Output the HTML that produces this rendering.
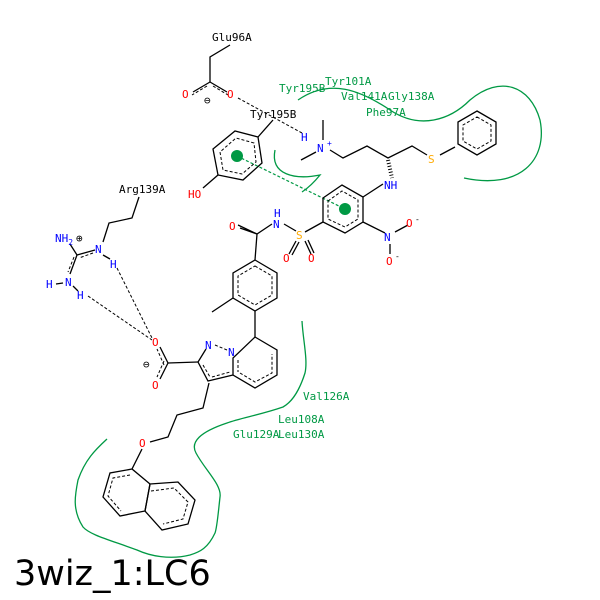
<!DOCTYPE html>
<html><head><meta charset="utf-8"><style>
html,body{margin:0;padding:0;background:#fff;}
svg{display:block;}
text{font-family:"DejaVu Sans Mono","Liberation Mono",monospace;font-size:11px;}
.b{stroke:#000;stroke-width:1.3;fill:none;}
.d{stroke:#000;stroke-width:1;fill:none;stroke-dasharray:3,2;}
.g{stroke:#009944;stroke-width:1.3;fill:none;}
.gt{fill:#009944;}
.r{fill:#ff0000;}
.n{fill:#0000ff;}
.s{fill:#ffaa00;}
</style></head><body>
<svg width="600" height="600" viewBox="0 0 600 600" xmlns="http://www.w3.org/2000/svg">
<rect width="600" height="600" fill="#fff"/>
<path class="g" d="M298,100 C330,78 360,90 390,110 C420,130 450,120 470,100 C500,75 530,85 540,120 C548,160 520,190 464,178"/>
<path class="g" d="M275,150 C270,175 295,180 320,175 C312,185 305,190 302,192"/>
<path class="g" d="M302,321 C303,340 308,360 305,373 C298,395 290,403 283,407 C260,415 240,418 227,423 C200,432 190,442 196,453 C205,470 222,485 220,497 C218,515 217,528 215,533 C208,548 200,552 190,555 C170,560 150,556 137,550 C110,540 90,535 83,527 C72,510 75,495 78,480 C85,460 95,450 107,439"/>
<text x="212" y="41">Glu96A</text>
<path class="b" d="M230,45 L210,57 L210,82"/>
<path class="b" d="M210,82 L193,92 M210,82 L227,92"/>
<path class="d" d="M207,86 L192,95 M213,86 L228,95"/>
<text x="182" y="98" class="r">O</text>
<text x="227" y="98" class="r">O</text>
<text x="204" y="104">⊖</text>
<path class="d" d="M238,98 L302,133"/>
<text x="250" y="118">Tyr195B</text>
<path class="b" d="M273,120 L258,137"/>
<polygon class="b" points="258,137 235,131 213,149 218,175 243,180 262,163"/>
<polygon class="d" points="254,143 236,138 220,152 223,170 242,174 256,162"/>
<path class="b" d="M218,175 L203,188"/>
<text x="188" y="198" class="r">HO</text>
<circle cx="237" cy="156" r="6" fill="#009944"/>
<path d="M237,156 L345,209" stroke="#009944" stroke-width="1.2" stroke-dasharray="3,2" fill="none"/>
<text x="301" y="141" class="n">H</text>
<text x="317" y="152" class="n">N</text>
<text x="327" y="146" class="n" style="font-size:8px">+</text>
<path class="b" d="M323,120 L323,140 M316,152 L301,160 M330,150 L343,158 L367,146 L388,158 L412,146 L427,155"/>
<path d="M388,160 L392,178" stroke="#000" stroke-width="4" stroke-dasharray="1,2" fill="none"/>
<text x="428" y="163" class="s">S</text>
<path class="b" d="M440,155 L455,147"/>
<polygon class="b" points="477,111 496,122 496,144 477,155 458,144 458,122"/>
<polygon class="d" points="477,117 491,125 491,141 477,149 463,141 463,125"/>
<text x="384" y="189" class="n">NH</text>
<polygon class="b" points="323,198 342,185 363,197 363,222 345,233 323,222"/>
<polygon class="d" points="328,201 342,191 358,200 358,219 345,227 328,219"/>
<circle cx="345" cy="209" r="6" fill="#009944"/>
<path class="b" d="M363,197 L383,184"/>
<path class="b" d="M363,222 L385,233"/>
<text x="384" y="241" class="n">N</text>
<path class="b" d="M395,232 L408,225 M390,244 L390,254"/>
<text x="406" y="227" class="r">O</text><text x="415" y="222" style="font-size:8px">-</text>
<text x="386" y="265" class="r">O</text><text x="395" y="259" style="font-size:8px">-</text>
<path class="b" d="M323,222 L305,232"/>
<text x="296" y="239" class="s">S</text>
<path class="b" d="M296,241 L289,254 M299,242 L292,255 M305,241 L311,254 M308,240 L314,253"/>
<text x="283" y="262" class="r">O</text>
<text x="308" y="262" class="r">O</text>
<path class="b" d="M296,231 L284,224"/>
<text x="273" y="228" class="n">N</text>
<text x="274" y="217" class="n">H</text>
<path class="b" d="M272,224 L257,234 L238,225 M257,234 L240,228"/>
<text x="229" y="230" class="r">O</text>
<path class="b" d="M257,234 L255,260"/>
<polygon class="b" points="255,260 277,273 277,298 255,311 233,298 233,273"/>
<polygon class="d" points="255,266 272,276 272,295 255,305 238,295 238,276"/>
<path class="b" d="M233,298 L212,312 M255,311 L255,337"/>
<polygon class="b" points="255,337 277,350 277,375 255,388 233,375 233,358"/>
<path class="d" d="M240,373 L255,382 L272,373 L272,354 M238,360 L238,372"/>
<path class="b" d="M233,375 L208,381 L198,362 L206,349"/>
<path class="d" d="M215,345 L227,350 M203,365 L210,377 M212,377 L230,372"/>
<text x="205" y="349" class="n">N</text>
<text x="228" y="356" class="n">N</text>
<path class="b" d="M198,362 L168,363"/>
<path class="b" d="M168,363 L160,347 M168,363 L160,379"/>
<path class="d" d="M164,365 L157,349 M164,361 L157,377"/>
<text x="152" y="346" class="r">O</text>
<text x="152" y="389" class="r">O</text>
<text x="143" y="368">⊖</text>
<text x="119" y="193">Arg139A</text>
<path class="b" d="M139,197 L132,218 L109,223 L103,242"/>
<text x="95" y="253" class="n">N</text>
<text x="110" y="268" class="n">H</text>
<path class="b" d="M103,255 L110,259 M95,250 L77,255 M77,255 L70,244 M77,255 L70,274"/>
<path class="d" d="M93,253 L79,258 M74,257 L68,272"/>
<text x="55" y="242" class="n">NH<tspan style="font-size:8px" dy="3">2</tspan></text>
<text x="76" y="242">⊕</text>
<text x="65" y="286" class="n">N</text>
<text x="46" y="288" class="n">H</text>
<text x="77" y="299" class="n">H</text>
<path class="b" d="M56,284 L63,283 M73,286 L78,291"/>
<path class="d" d="M117,268 L152,338 M88,296 L152,340"/>
<path class="b" d="M209,383 L203,408 L177,415 L168,437 L150,442"/>
<text x="139" y="447" class="r">O</text>
<path class="b" d="M142,449 L132,469"/>
<polygon class="b" points="132,469 110,473 103,497 120,516 145,511 150,484"/>
<polygon class="b" points="150,484 178,482 195,500 188,524 162,530 145,511"/>
<path class="d" d="M130,475 L113,478 L108,496 L121,511 M151,491 L174,488 L188,502 L183,519 L163,524"/>
<text x="279" y="92" class="gt">Tyr195B</text>
<text x="325" y="85" class="gt">Tyr101A</text>
<text x="341" y="100" class="gt">Val141A</text>
<text x="388" y="100" class="gt">Gly138A</text>
<text x="366" y="116" class="gt">Phe97A</text>
<text x="303" y="400" class="gt">Val126A</text>
<text x="278" y="423" class="gt">Leu108A</text>
<text x="233" y="438" class="gt">Glu129A</text>
<text x="278" y="438" class="gt">Leu130A</text>
<text x="14" y="585" style="font-size:35px;font-family:'DejaVu Sans','Liberation Sans',sans-serif;">3wiz_1:LC6</text>
</svg>
</body></html>
